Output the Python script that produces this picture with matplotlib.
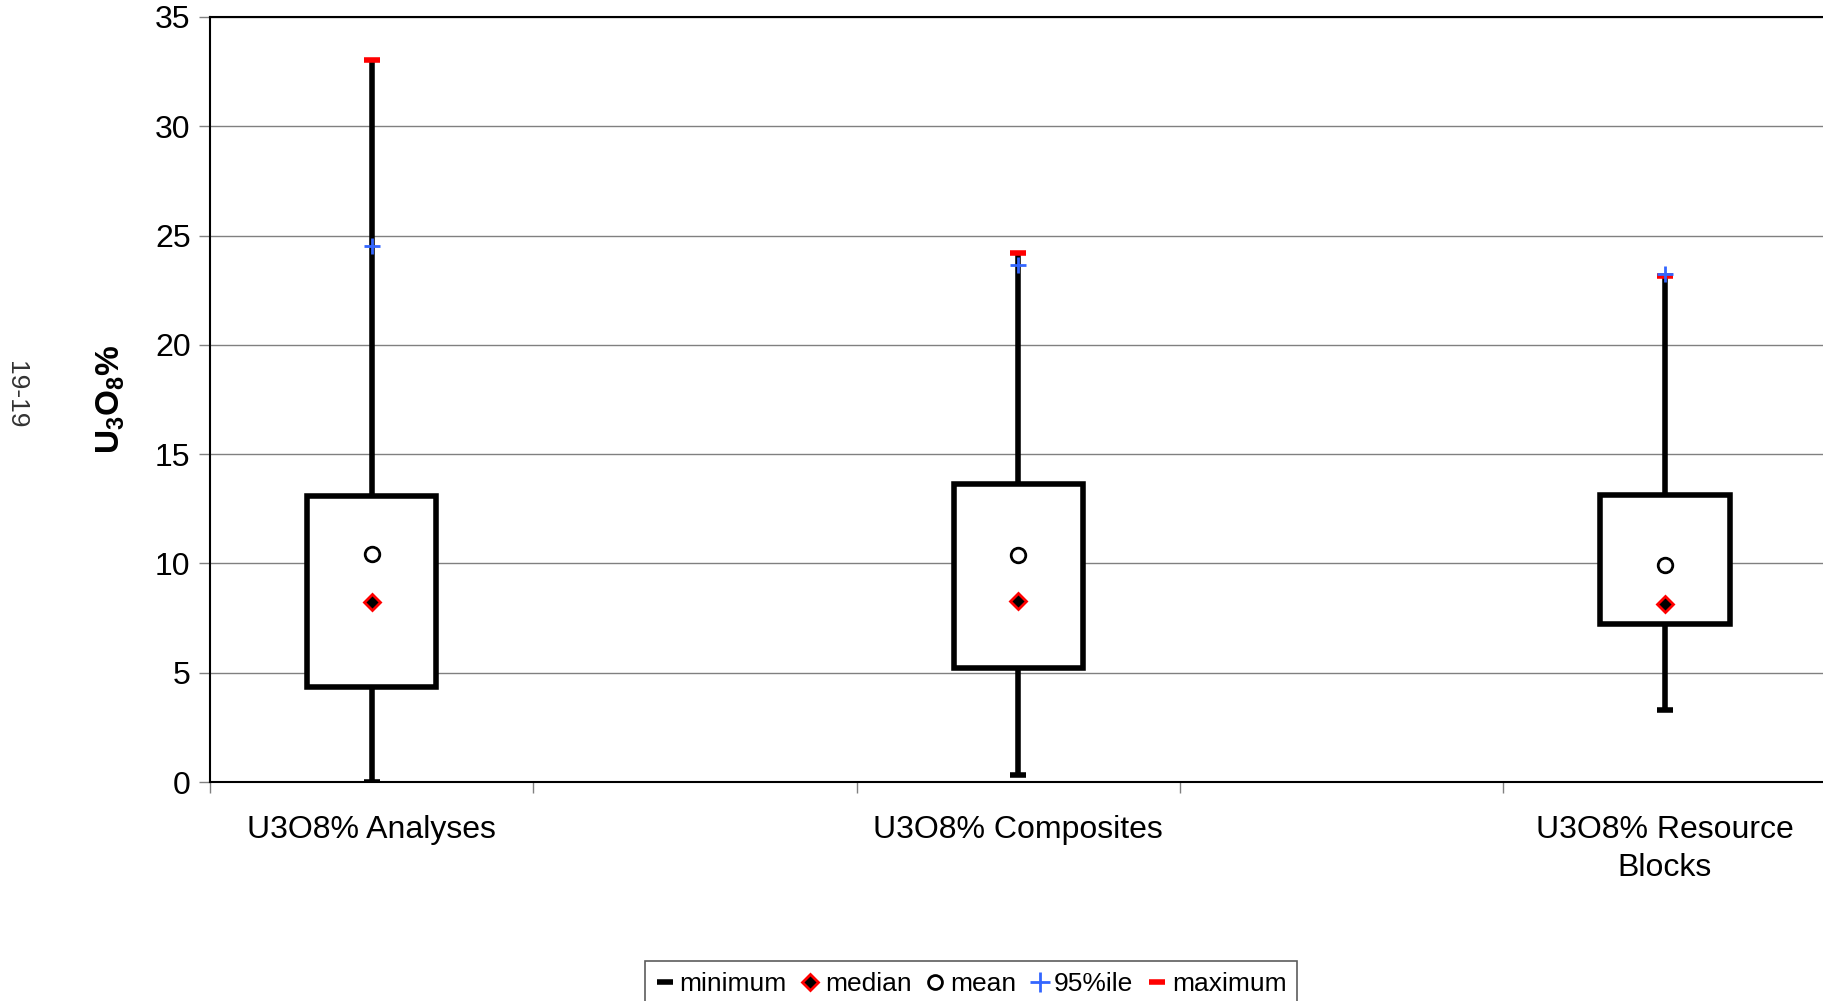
import matplotlib
matplotlib.use("Agg")
import matplotlib.pyplot as plt
from matplotlib.lines import Line2D

plt.rcParams["font.family"] = ["Liberation Sans", "DejaVu Sans"]
plt.rcParams["mathtext.fontset"] = "custom"
plt.rcParams["mathtext.rm"] = "Liberation Sans"
plt.rcParams["mathtext.bf"] = "Liberation Sans:bold"

# values (U3O8 %)
categories = ["U3O8% Analyses", "U3O8% Composites", "U3O8% Resource\nBlocks"]
minimum = [0.0, 0.32, 3.30]
q25 = [4.36, 5.21, 7.23]
median = [8.24, 8.30, 8.14]
mean = [10.43, 10.37, 9.95]
q75 = [13.09, 13.62, 13.14]
pct95 = [24.52, 23.67, 23.24]
maximum = [33.03, 24.20, 23.14]

# excel-style category axis: 5 slots, data in slots 1, 3, 5
xs = [2 * i + 1 for i in range(len(categories))]

fig = plt.figure(figsize=(18.23, 10.01), dpi=100)
ax = fig.add_axes([210 / 1823, 1 - 782 / 1001, 1 - 210 / 1823 + 0.002, (782 - 17) / 1001])

ax.set_xlim(0.5, 5.5)
ax.set_ylim(0, 35)
ax.set_yticks(range(0, 36, 5))
ax.yaxis.grid(True, color="#808080", lw=1.0, zorder=0)
ax.set_axisbelow(True)

ax.vlines(xs, minimum, maximum, color="black", lw=4, zorder=2)
ax.bar(xs, [b - a for a, b in zip(q25, q75)], bottom=q25, width=0.4,
       facecolor="white", edgecolor="black", lw=4, zorder=3)
ax.plot(xs, minimum, ls="none", marker="_", ms=12, mew=4, color="black", zorder=4)
ax.plot(xs, maximum, ls="none", marker="_", ms=12, mew=4, color="#ff0000", zorder=5)
ax.plot(xs, pct95, ls="none", marker="+", ms=12, mew=2, color="#3366ff", zorder=6)
ax.plot(xs, median, ls="none", marker="D", ms=8.5, mew=2, mfc="black", mec="#ff0000", zorder=5)
ax.plot(xs, mean, ls="none", marker="o", ms=10.5, mew=2, mfc="white", mec="black", zorder=5)

ax.set_xticks([0.5 + k for k in range(6)])
ax.set_xticklabels([])
ax.tick_params(axis="x", direction="out", length=8, width=1, color="#808080")
ax.tick_params(axis="y", direction="out", length=8, width=1, color="#808080", labelsize=23, pad=6)
for x, lab in zip(xs, categories):
    ax.text(x, -1.5, lab, ha="center", va="top", fontsize=23,
            transform=ax.transData, linespacing=1.35)

for s in ["left", "bottom", "top"]:
    ax.spines[s].set_color("black")
    ax.spines[s].set_linewidth(1.5)
ax.spines["right"].set_visible(False)

ax.set_ylabel(r"$\mathbf{U_3O_8\%}$", fontsize=24, labelpad=20)
fig.text(14 / 1823 * 1.16, 1 - 395 / 1001, "19-19", rotation=-90, ha="center", va="center",
         fontsize=19, color="#333333")

handles = [
    Line2D([], [], ls="none", marker="_", ms=12, mew=4, color="black"),
    Line2D([], [], ls="none", marker="D", ms=8, mew=2, mfc="black", mec="#ff0000"),
    Line2D([], [], ls="none", marker="o", ms=10, mew=2, mfc="white", mec="black"),
    Line2D([], [], ls="none", marker="+", ms=14, mew=2, color="#3366ff"),
    Line2D([], [], ls="none", marker="_", ms=12, mew=4, color="#ff0000"),
]
labels = ["minimum", "median", "mean", "95%ile", "maximum"]
leg = fig.legend(handles, labels, loc="upper center", bbox_to_anchor=(971 / 1823, 1 - 961 / 1001),
                 ncol=5, fontsize=19, frameon=True, fancybox=False, handlelength=0.7,
                 handletextpad=0.2, columnspacing=0.55, borderpad=0.42, borderaxespad=0)
leg.get_frame().set_edgecolor("#333333")
leg.get_frame().set_linewidth(1.2)

fig.savefig("out.png", dpi=100)
